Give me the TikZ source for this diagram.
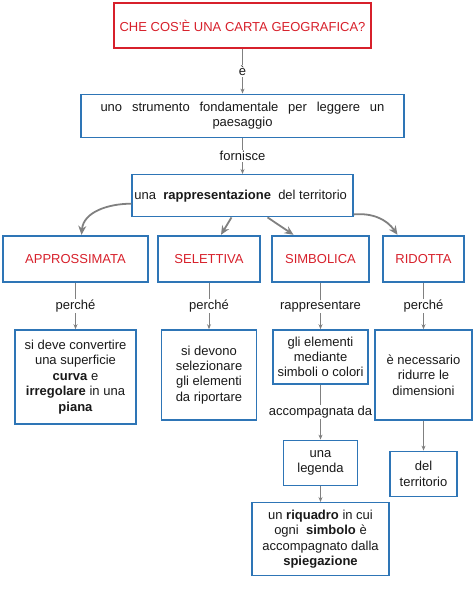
\documentclass[tikz,border=0pt]{standalone}
\usepackage{fontspec}
\setmainfont{Liberation Sans}
\usepackage{xcolor}
\usetikzlibrary{positioning, arrows.meta}
\definecolor{mapred}{HTML}{D7202B}
\definecolor{mapblue}{HTML}{2E75B6}
\definecolor{linkgray}{HTML}{808080}

\begin{document}
\begin{tikzpicture}[
    x=1pt, y=1pt,
    font=\fontsize{13}{15.4}\selectfont,
    question/.style={draw=mapred, line width=1.2pt, text=mapred, minimum width=257pt, minimum height=45pt, align=center},
    box/.style={draw=mapblue, line width=1.4pt, inner sep=2pt, align=center, text=black!90},
    category/.style={draw=mapblue, line width=2.4pt, text=mapred, minimum height=46pt, align=center},
    link/.style={draw=linkgray, line width=0.9pt, -{Stealth[length=5pt, width=4pt]}},
    branch/.style={draw=linkgray, line width=1.8pt, -{Stealth[length=9pt, width=8pt]}},
    lbl/.style={fill=white, inner sep=1pt, text=black!90}
]
\useasboundingbox (0,0) rectangle (474,-589);

% Main column
\node[question] (Title) at (242.5,-25.5) {CHE COS'È UNA CARTA GEOGRAFICA?};
\node[box, minimum width=323pt, minimum height=43pt, below=45pt of Title] (Tool) {
    \makebox[284pt][s]{uno strumento fondamentale per leggere un}\\
    paesaggio
};
\node[box, minimum width=221pt, minimum height=42pt, below=36pt of Tool] (Repr) {
    una\ \ \textbf{rappresentazione}\ \ del territorio
};

% Categories
\node[category, minimum width=145pt] (Approx) at (75.5,-259) {APPROSSIMATA};
\node[category, minimum width=102pt] (Select) at (209,-259) {SELETTIVA};
\node[category, minimum width=97pt] (Symbol) at (320.5,-259) {SIMBOLICA};
\node[category, minimum width=81pt] (Reduce) at (423.5,-259) {RIDOTTA};

% Details
\node[box, minimum width=121pt, minimum height=94pt, below=46pt of Approx] (ApproxWhy) {
    si deve convertire\\
    una superficie\\
    \textbf{curva} e\\
    \textbf{irregolare} in una\\
    \textbf{piana}
};
\node[box, minimum width=95pt, minimum height=90pt, below=46pt of Select] (SelectWhy) {
    si devono\\
    selezionare\\
    gli elementi\\
    da riportare
};
\node[box, minimum width=95pt, minimum height=54pt, below=46pt of Symbol] (SymbolWhat) {
    gli elementi\\
    mediante\\
    simboli o colori
};
\node[box, minimum width=97pt, minimum height=90pt, below=46pt of Reduce] (ReduceWhy) {
    è necessario\\
    ridurre le\\
    dimensioni
};
\node[box, minimum width=74pt, minimum height=45pt, below=55pt of SymbolWhat] (Legend) {
    una\\
    legenda
};
\node[box, minimum width=67pt, minimum height=45pt, below=30pt of ReduceWhy] (Territory) {
    del\\
    territorio
};
\node[box, minimum width=137pt, minimum height=73pt, below=16pt of Legend] (Frame) {
    un \textbf{riquadro} in cui\\
    ogni\ \ \textbf{simbolo} è\\
    accompagnato dalla\\
    \textbf{spiegazione}
};

% Connections
\draw[link] (Title) -- node[lbl] {è} (Tool);
\draw[link] (Tool) -- node[lbl] {fornisce} (Repr);
\draw[branch] ([yshift=-8pt]Repr.west) to[out=180, in=85] ([xshift=6pt]Approx.north);
\draw[branch] ([xshift=-11pt]Repr.south) -- ([xshift=12pt]Select.north);
\draw[branch] ([xshift=25pt]Repr.south) -- ([xshift=-27pt]Symbol.north);
\draw[branch] ([yshift=3pt]Repr.south east) to[out=5, in=125] ([xshift=-26pt]Reduce.north);
\draw[link] (Approx) -- node[lbl] {perché} (ApproxWhy);
\draw[link] (Select) -- node[lbl] {perché} (SelectWhy);
\draw[link] (Symbol) -- node[lbl] {rappresentare} (SymbolWhat);
\draw[link] (Reduce) -- node[lbl] {perché} (ReduceWhy);
\draw[link] (SymbolWhat) -- node[lbl] {accompagnata da} (Legend);
\draw[link] (ReduceWhy) -- (Territory);
\draw[link] (Legend) -- (Frame);

\end{tikzpicture}
\end{document}
